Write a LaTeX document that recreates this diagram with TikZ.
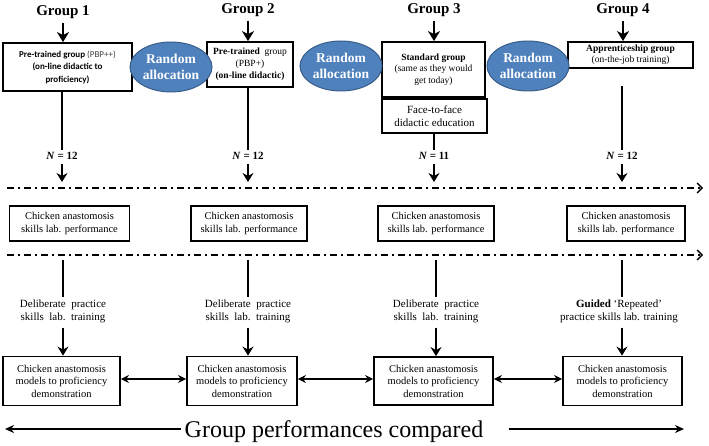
\documentclass[tikz,border=0pt]{standalone}
\usepackage{fontspec}
\setmainfont{Liberation Serif}
\newfontfamily\calibfont{Carlito}
\usepackage{tikz}
\usetikzlibrary{shapes.geometric, arrows.meta, positioning, calc}
\definecolor{AllocBlue}{HTML}{4F81BD}
\definecolor{AllocEdge}{HTML}{385D8A}
\definecolor{LabelGray}{HTML}{404040}

\begin{document}
\begin{tikzpicture}[x=1pt, y=-1pt,
  grp/.style={font=\fontsize{15}{18}\selectfont\bfseries, inner sep=1pt},
  box/.style={draw, line width=1.8pt, align=center, inner sep=2pt},
  alloc/.style={ellipse, draw=AllocEdge, fill=AllocBlue, line width=1pt,
    text=white, font=\fontsize{13.5}{15.5}\selectfont\bfseries, align=center,
    inner sep=0pt, minimum width=82, minimum height=50},
  nlabel/.style={font=\fontsize{11}{13}\selectfont\bfseries, inner sep=2pt},
  practice/.style={font=\fontsize{11}{13}\selectfont, align=center, inner sep=2pt},
  vline/.style={line width=2.8pt},
  headarr/.style={line width=2.6pt, -{Stealth[length=10pt, width=12pt, inset=3pt]}},
  downarr/.style={line width=2.6pt, -{Stealth[length=9pt, width=11pt, inset=3pt]}},
  phaseline/.style={line width=1.6pt, dash pattern=on 7pt off 4pt on 2pt off 4pt,
    -{Straight Barb[length=5pt, width=10pt, line width=1.4pt]}},
  dblarr/.style={line width=2.4pt, {Stealth[length=8pt, width=8pt]}-{Stealth[length=8pt, width=8pt]}},
  bigarr/.style={line width=2.4pt, -{Stealth[length=9pt, width=8pt]}}
]

\useasboundingbox (0,0) rectangle (709,446);

% Group headings
\node[grp] (g1) at (63,12) {Group 1};
\node[grp] (g2) at (248,10) {Group 2};
\node[grp] (g3) at (434,10) {Group 3};
\node[grp] (g4) at (623,10) {Group 4};

% Group boxes
\node[box, minimum width=129, minimum height=48,
  font=\calibfont\fontsize{9}{12.5}\selectfont] (pre1) at (67.5,67)
  {\textbf{Pre-trained group} {\color{LabelGray}(PBP++)}\\
   \textbf{(on-line didactic to}\\ \textbf{proficiency)}};
\node[box, minimum width=86, minimum height=45,
  font=\fontsize{9.5}{12}\selectfont] (pre2) at (250,64.5)
  {\textbf{Pre-trained}\ \ group\\ (PBP+)\\ \textbf{(on-line didactic)}};
\node[box, minimum width=103, minimum height=55,
  font=\fontsize{9.5}{11.5}\selectfont] (std3) at (433.5,69.5)
  {\textbf{Standard group}\\ (same as they would\\ get today)};
\node[box, minimum width=105, minimum height=34,
  font=\fontsize{11}{13.5}\selectfont] (face3) at (434.5,116)
  {Face-to-face\\ didactic education};
\node[box, minimum width=125, minimum height=26,
  font=\fontsize{9.5}{11}\selectfont] (app4) at (630.5,55)
  {\textbf{Apprenticeship group}\\ (on-the-job training)};

% Random allocation
\node[alloc] (alloc1) at (171,67) {Random\\ allocation};
\node[alloc] (alloc2) at (341,66) {Random\\ allocation};
\node[alloc] (alloc3) at (528,66) {Random\\ allocation};

% Sample sizes
\node[nlabel] (n1) at (62,156) {\textit{N} = 12};
\node[nlabel] (n2) at (248,156) {\textit{N} = 12};
\node[nlabel] (n3) at (434,156) {\textit{N} = 11};
\node[nlabel] (n4) at (622,156) {\textit{N} = 12};

% Phase lines
\coordinate (d1L) at (7,188);
\coordinate (d1R) at (703,188);
\coordinate (d2L) at (7,255);
\coordinate (d2R) at (703,255);

% Baseline performance
\node[box, minimum width=120, minimum height=35,
  font=\fontsize{10.5}{12.5}\selectfont] (perf1) at (69.5,223.5)
  {Chicken anastomosis\\ skills lab. performance};
\node[box, minimum width=116, minimum height=35,
  font=\fontsize{10.5}{12.5}\selectfont] (perf2) at (249,223.5)
  {Chicken anastomosis\\ skills lab. performance};
\node[box, minimum width=116, minimum height=35,
  font=\fontsize{10.5}{12.5}\selectfont] (perf3) at (436,223.5)
  {Chicken anastomosis\\ skills lab. performance};
\node[box, minimum width=118, minimum height=35,
  font=\fontsize{10.5}{12.5}\selectfont] (perf4) at (626,223.5)
  {Chicken anastomosis\\ skills lab. performance};

% Training
\node[practice] (dp1) at (63,311) {Deliberate\ \ practice\\ skills\ \ lab.\ \ training};
\node[practice] (dp2) at (248,311) {Deliberate\ \ practice\\ skills\ \ lab.\ \ training};
\node[practice] (dp3) at (436,311) {Deliberate\ \ practice\\ skills\ \ lab.\ \ training};
\node[practice] (dp4) at (619,311) {\textbf{Guided} `Repeated'\\ practice skills lab. training};

% Proficiency demonstration
\node[box, minimum width=117, minimum height=49,
  font=\fontsize{10.5}{12.5}\selectfont] (demo1) at (61.5,381)
  {Chicken anastomosis\\ models to proficiency\\ demonstration};
\node[box, minimum width=110, minimum height=49,
  font=\fontsize{10.5}{12.5}\selectfont] (demo2) at (242,381)
  {Chicken anastomosis\\ models to proficiency\\ demonstration};
\node[box, minimum width=119, minimum height=48,
  font=\fontsize{10.5}{12.5}\selectfont] (demo3) at (433.5,381)
  {Chicken anastomosis\\ models to proficiency\\ demonstration};
\node[box, minimum width=119, minimum height=49,
  font=\fontsize{10.5}{12.5}\selectfont] (demo4) at (622.5,381)
  {Chicken anastomosis\\ models to proficiency\\ demonstration};

% Comparison
\node[font=\fontsize{24}{28}\selectfont, anchor=base] (cmp) at (334,437)
  {Group performances compared};
\coordinate (cmpL) at (5,429);
\coordinate (cmpR) at (684,429);

% Headings to groups
\draw[headarr, shorten <=3pt] (g1.south) -- (g1 |- pre1.north);
\draw[headarr, shorten <=3pt] (g2.south) -- (g2 |- pre2.north);
\draw[headarr, shorten <=3pt] (g3.south) -- (g3 |- std3.north);
\draw[headarr, shorten <=3pt] (g4.south) -- (g4 |- app4.north);

% Groups to sample sizes
\draw[vline] (pre1.south -| n1) -- (n1.north);
\draw[vline] (pre2.south -| n2) -- (n2.north);
\draw[vline] (std3.south -| n3) -- (face3.north -| n3);
\draw[vline] (face3.south -| n3) -- (n3.north);
\draw[vline, shorten <=17pt] (app4.south -| n4) -- (n4.north);

% Sample sizes to phase line
\draw[downarr, shorten <=2pt, shorten >=6pt] (n1.south) -- (n1 |- d1L);
\draw[downarr, shorten <=2pt, shorten >=6pt] (n2.south) -- (n2 |- d1L);
\draw[downarr, shorten <=2pt, shorten >=6pt] (n3.south) -- (n3 |- d1L);
\draw[downarr, shorten <=2pt, shorten >=6pt] (n4.south) -- (n4 |- d1L);

\draw[phaseline] (d1L) -- (d1R);
\draw[phaseline] (d2L) -- (d2R);

% Phase line to training
\draw[vline, shorten <=5pt] (dp1 |- d2L) -- (dp1.north);
\draw[vline, shorten <=5pt] (dp2 |- d2L) -- (dp2.north);
\draw[vline, shorten <=5pt] (dp3 |- d2L) -- (dp3.north);
\draw[vline, shorten <=5pt] (n4 |- d2L) -- (n4 |- dp4.north);

% Training to demonstration
\draw[downarr, shorten <=3pt] (dp1.south) -- (dp1.south |- demo1.north);
\draw[downarr, shorten <=3pt] (dp2.south) -- (dp2.south |- demo2.north);
\draw[downarr, shorten <=3pt] (dp3.south) -- (dp3.south |- demo3.north);
\draw[downarr, shorten <=3pt] (n4 |- dp4.south) -- (n4 |- demo4.north);

% Comparisons
\draw[dblarr] ([yshift=2pt]demo1.east) -- ([yshift=2pt]demo2.west);
\draw[dblarr] ([yshift=2pt]demo2.east) -- ([yshift=2pt]demo3.west);
\draw[dblarr] ([yshift=2pt]demo3.east) -- ([yshift=2pt]demo4.west);

\draw[bigarr] (cmp.west |- cmpL) -- (cmpL);
\draw[bigarr] ($(cmp.east |- cmpR)+(22,0)$) -- (cmpR);

\end{tikzpicture}
\end{document}
